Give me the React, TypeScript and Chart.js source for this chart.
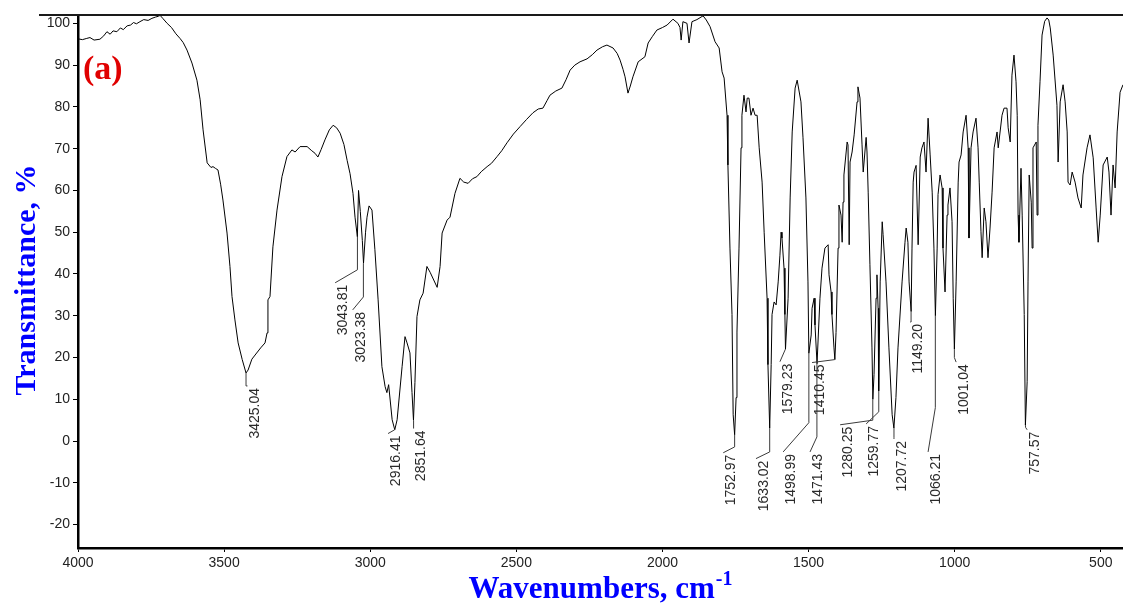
import React, { useEffect, useRef } from 'react';
import { Chart, registerables } from 'chart.js';

Chart.register(...registerables);

// ---- Spectrum data (wavenumber, cm-1 / transmittance, %) ----
const wavenumbers: number[] = [
  4000, 3985, 3970, 3959, 3945, 3925, 3912, 3901, 3890, 3880, 3867, 3855, 3845, 3832, 3820, 3810, 3800, 3788, 3775, 3760,
  3747, 3735, 3725, 3719, 3710, 3695, 3680, 3665, 3651, 3640, 3627, 3610, 3593, 3582, 3572, 3558, 3545, 3538, 3530, 3521,
  3512, 3504, 3490, 3480, 3473, 3463, 3452, 3438, 3425, 3418, 3405, 3394, 3375, 3360, 3353, 3350, 3343, 3333, 3319, 3302,
  3285, 3268, 3257, 3240, 3216, 3200, 3189, 3179, 3168, 3155, 3140, 3127, 3115, 3103, 3090, 3079, 3069, 3059, 3052, 3044,
  3040, 3034, 3027, 3023, 3016, 3011, 3004, 2994, 2984, 2973, 2960, 2949, 2943, 2937, 2925, 2916, 2908, 2891, 2881, 2874,
  2864, 2857, 2852, 2847, 2840, 2830, 2819, 2806, 2795, 2771, 2761, 2754, 2737, 2727, 2710, 2693, 2680, 2665, 2650, 2635,
  2620, 2600, 2585, 2566, 2550, 2532, 2510, 2487, 2465, 2443, 2425, 2409, 2395, 2385, 2365, 2344, 2330, 2316, 2300, 2282,
  2258, 2240, 2224, 2205, 2190, 2169, 2155, 2145, 2135, 2128, 2118, 2110, 2101, 2083, 2060, 2049, 2035, 2019, 2000, 1984,
  1964, 1947, 1940, 1936, 1930, 1916, 1909, 1899, 1882, 1861, 1850, 1837, 1820, 1806, 1796, 1789, 1779, 1776, 1769, 1762,
  1758, 1753, 1748, 1745, 1738, 1731, 1728, 1721, 1714, 1710, 1704, 1697, 1690, 1683, 1676, 1669, 1659, 1652, 1642, 1639,
  1633, 1628, 1625, 1618, 1611, 1604, 1598, 1594, 1591, 1584, 1581, 1579, 1570, 1563, 1556, 1546, 1539, 1526, 1519, 1509,
  1502, 1499, 1491, 1488, 1481, 1478, 1471, 1461, 1454, 1444, 1433, 1430, 1423, 1420, 1413, 1410, 1406, 1399, 1396, 1389,
  1385, 1382, 1379, 1368, 1365, 1361, 1358, 1351, 1344, 1334, 1331, 1324, 1317, 1313, 1303, 1300, 1296, 1290, 1283, 1280,
  1276, 1269, 1266, 1262, 1260, 1255, 1248, 1245, 1235, 1225, 1214, 1208, 1201, 1194, 1180, 1170, 1166, 1160, 1156, 1149,
  1146, 1142, 1139, 1132, 1125, 1118, 1112, 1105, 1098, 1091, 1084, 1077, 1071, 1066, 1060, 1057, 1050, 1043, 1040, 1033,
  1026, 1023, 1016, 1009, 1005, 1001, 995, 988, 985, 978, 971, 961, 954, 951, 944, 937, 927, 920, 916, 910,
  906, 899, 893, 886, 879, 872, 865, 855, 851, 838, 831, 821, 817, 810, 804, 797, 790, 786, 783, 780,
  773, 769, 762, 758, 752, 749, 745, 738, 735, 732, 721, 718, 715, 708, 701, 692, 684, 678, 673, 663,
  650, 646, 639, 629, 622, 615, 612, 605, 598, 588, 578, 567, 561, 547, 537, 526, 516, 509, 502, 492,
  478, 472, 465, 458, 451, 444, 434, 424,
];

const transmittance: number[] = [
  96.3, 96.1, 96.4, 96.6, 96.0, 96.2, 97.0, 98.0, 97.4, 98.2, 98.0, 98.9, 98.5, 99.4, 99.6, 100.2, 99.9, 100.4, 100.9, 100.7,
  101.2, 101.5, 101.7, 101.9, 101.2, 100.0, 99.0, 97.5, 96.4, 95.4, 93.6, 90.5, 86.4, 81.7, 74.5, 66.6, 65.5, 65.7, 65.3, 64.9,
  61.5, 57.7, 49.8, 41.8, 34.6, 29.0, 23.5, 19.5, 16.3, 17.0, 19.6, 20.6, 22.3, 23.5, 25.9, 33.8, 34.6, 46.5, 55.3, 63.3,
  68.1, 69.7, 69.2, 70.5, 70.5, 69.5, 68.9, 68.0, 69.8, 72.1, 74.5, 75.6, 75.0, 73.7, 71.0, 67.2, 64.0, 59.3, 53.6, 48.9,
  60.0, 55.0, 48.0, 42.6, 50.0, 53.6, 56.3, 55.3, 45.8, 33.8, 17.8, 13.0, 11.6, 13.5, 5.1, 2.7, 5.1, 17.8, 25.0, 23.5,
  21.1, 11.6, 5.0, 14.0, 29.8, 33.8, 35.4, 41.8, 40.4, 36.8, 41.8, 49.8, 52.9, 53.6, 59.3, 62.9, 62.0, 61.7, 62.8, 63.3,
  64.5, 65.7, 66.5, 68.1, 69.5, 71.4, 73.5, 75.3, 77.0, 78.6, 79.5, 79.7, 81.5, 82.8, 83.8, 84.5, 86.5, 88.8, 90.0, 90.8,
  91.5, 92.5, 93.6, 94.4, 94.8, 94.1, 92.8, 91.2, 89.0, 87.2, 83.3, 85.0, 87.2, 90.8, 92.0, 95.3, 96.8, 98.4, 99.0, 99.6,
  101.0, 100.0, 99.0, 96.0, 100.4, 100.0, 95.3, 100.4, 100.9, 101.8, 100.8, 99.2, 95.6, 94.1, 88.4, 86.9, 78.0, 66.1, 46.2, 30.3,
  6.3, 1.5, 10.4, 26.1, 46.2, 70.2, 78.0, 82.8, 78.8, 82.1, 82.1, 78.0, 79.7, 78.0, 78.0, 70.2, 62.0, 50.0, 34.2, 18.3,
  3.1, 18.3, 30.3, 33.3, 32.6, 38.1, 44.5, 50.0, 48.6, 41.4, 30.3, 22.0, 34.2, 58.2, 74.0, 84.5, 86.4, 81.2, 72.6, 58.2,
  38.1, 21.0, 25.4, 31.8, 34.2, 27.8, 18.5, 34.2, 41.4, 46.2, 47.0, 39.8, 35.7, 30.3, 22.3, 19.5, 26.0, 46.2, 56.5, 54.1,
  47.6, 57.2, 63.7, 71.6, 70.9, 47.0, 66.8, 69.2, 73.3, 81.2, 84.8, 82.1, 70.9, 64.4, 72.7, 69.2, 59.6, 42.2, 22.3, 10.0,
  15.9, 34.2, 39.8, 31.8, 12.0, 38.1, 52.5, 49.4, 38.1, 22.3, 6.3, 3.1, 10.4, 22.3, 38.1, 47.6, 51.0, 47.6, 38.1, 31.0,
  46.2, 62.0, 64.4, 66.0, 47.0, 68.0, 70.2, 71.6, 64.4, 77.3, 68.5, 59.6, 46.2, 30.0, 46.2, 59.0, 63.7, 60.6, 46.2, 35.7,
  54.1, 56.5, 60.6, 52.5, 34.2, 22.0, 38.1, 62.0, 66.8, 68.5, 74.0, 78.0, 70.2, 48.6, 70.2, 74.0, 77.3, 70.2, 62.0, 50.1,
  43.9, 55.8, 52.5, 43.9, 51.0, 59.6, 70.2, 74.0, 70.2, 78.0, 79.7, 79.7, 75.0, 71.6, 87.6, 92.4, 86.0, 78.0, 54.1, 47.6,
  65.3, 54.1, 30.3, 3.8, 14.2, 38.1, 63.7, 57.2, 46.2, 70.2, 71.6, 54.1, 75.6, 86.0, 97.2, 100.5, 101.3, 100.8, 98.9, 92.4,
  80.4, 66.8, 81.2, 85.3, 81.2, 74.0, 62.0, 61.3, 64.4, 62.0, 58.2, 55.8, 63.7, 70.2, 73.3, 67.8, 55.8, 47.6, 54.1, 66.1,
  68.0, 64.4, 54.1, 66.1, 60.6, 74.0, 83.5, 85.3,
];

// ---- Axes ----
const xTickValues: number[] = [4000, 3500, 3000, 2500, 2000, 1500, 1000, 500];
const yTickValues: number[] = [-20, -10, 0, 10, 20, 30, 40, 50, 60, 70, 80, 90, 100];
const xMin = 424;
const xMax = 4000;
const yMin = -25.6;
const yMax = 102;

// ---- Peak annotations ----
const peakLabels: string[] = [
  '3425.04', '3043.81', '3023.38', '2916.41', '2851.64', '1752.97', '1633.02', '1579.23', '1498.99',
  '1471.43', '1410.45', '1280.25', '1259.77', '1207.72', '1149.20', '1066.21', '1001.04', '757.57',
];
const peakWavenumbers: number[] = [
  3425.04, 3043.81, 3023.38, 2916.41, 2851.64, 1752.97, 1633.02, 1579.23, 1498.99,
  1471.43, 1410.45, 1280.25, 1259.77, 1207.72, 1149.2, 1066.21, 1001.04, 757.57,
];
const peakValues: number[] = [16.3, 48.9, 42.6, 2.7, 5.0, 1.5, 3.1, 22.0, 21.0, 18.5, 19.5, 10.0, 12.0, 3.1, 31.0, 30.0, 22.0, 3.8];
const leaderElbowValues: number[] = [13.2, 41.0, 34.5, 2.7, 3.0, -1.4, -2.6, 22.0, 4.4, 1.0, 19.5, 5.0, 7.0, 0.8, 28.5, 8.0, 20.0, 3.3];
const labelWavenumbers: number[] = [3420, 3120, 3060, 2939, 2851.64, 1792, 1680, 1598, 1587, 1495, 1488, 1392, 1303, 1207.72, 1152, 1091, 995, 752];
const labelValues: number[] = [13.2, 37.9, 31.4, 1.8, 3.0, -2.8, -4.2, 19.0, -2.6, -2.6, 18.8, 3.9, 4.1, 0.5, 28.5, -2.6, 18.9, 2.7];

const SANS = "'Liberation Sans', Arial, sans-serif";
const SERIF = "'Liberation Serif', 'Times New Roman', serif";

const overlayPlugin = {
  id: 'overlay',
  afterDatasetsDraw(chart: any) {
    const { ctx, chartArea } = chart;
    const xs = chart.scales.x;
    const ys = chart.scales.y;
    ctx.save();

    // top frame line
    ctx.strokeStyle = '#1a1a1a';
    ctx.lineWidth = 2;
    ctx.beginPath();
    ctx.moveTo(39, chartArea.top);
    ctx.lineTo(chart.width, chartArea.top);
    ctx.stroke();

    // peak leaders + labels
    ctx.strokeStyle = '#3a3a3a';
    ctx.fillStyle = '#2a2a2a';
    ctx.lineWidth = 1;
    ctx.font = `14px ${SANS}`;
    for (let i = 0; i < peakLabels.length; i++) {
      const px = xs.getPixelForValue(peakWavenumbers[i]);
      const py = ys.getPixelForValue(peakValues[i]);
      const ey = ys.getPixelForValue(leaderElbowValues[i]);
      const lx = xs.getPixelForValue(labelWavenumbers[i]);
      const ly = ys.getPixelForValue(labelValues[i]);
      ctx.beginPath();
      ctx.moveTo(px, py);
      ctx.lineTo(px, ey);
      ctx.lineTo(lx, ly);
      ctx.stroke();
      ctx.save();
      ctx.translate(lx + 8, ly + 2);
      ctx.rotate(-Math.PI / 2);
      ctx.textAlign = 'right';
      ctx.textBaseline = 'middle';
      ctx.fillText(peakLabels[i], 0, 0);
      ctx.restore();
    }

    // panel tag
    ctx.fillStyle = '#e00000';
    ctx.font = `bold 34px ${SERIF}`;
    ctx.textAlign = 'left';
    ctx.textBaseline = 'alphabetic';
    ctx.fillText('(a)', 83, 79);

    // y title
    ctx.save();
    ctx.fillStyle = '#0000ff';
    ctx.font = `bold 30px ${SERIF}`;
    ctx.translate(35, 280);
    ctx.rotate(-Math.PI / 2);
    ctx.textAlign = 'center';
    ctx.fillText('Transmittance, %', 0, 0);
    ctx.restore();

    // x title with superscript
    ctx.fillStyle = '#0000ff';
    ctx.font = `bold 31px ${SERIF}`;
    const main = 'Wavenumbers, cm';
    const w = ctx.measureText(main).width;
    ctx.font = `bold 20px ${SERIF}`;
    const sup = '-1';
    const ws = ctx.measureText(sup).width;
    const startX = 600 - (w + ws) / 2;
    ctx.font = `bold 31px ${SERIF}`;
    ctx.textAlign = 'left';
    ctx.fillText(main, startX, 598);
    ctx.font = `bold 20px ${SERIF}`;
    ctx.fillText(sup, startX + w + 1, 585);

    ctx.restore();
  },
};

export default function App() {
  const canvasRef = useRef<HTMLCanvasElement | null>(null);

  useEffect(() => {
    const canvas = canvasRef.current;
    if (!canvas) return;
    const points = wavenumbers.map((x, i) => ({ x, y: transmittance[i] }));
    const chart = new Chart(canvas, {
      type: 'line',
      data: {
        datasets: [
          {
            data: points,
            borderColor: '#000000',
            borderWidth: 1,
            pointRadius: 0,
            tension: 0,
            fill: false,
          },
        ],
      },
      options: {
        animation: false,
        responsive: false,
        maintainAspectRatio: false,
        devicePixelRatio: 1,
        layout: { padding: { top: 15, right: 0, left: 0, bottom: 0 } },
        plugins: {
          legend: { display: false },
          tooltip: { enabled: false },
          title: { display: false },
        },
        scales: {
          x: {
            type: 'linear',
            reverse: true,
            min: xMin,
            max: xMax,
            afterBuildTicks: (s: any) => {
              s.ticks = xTickValues.map((v) => ({ value: v }));
            },
            afterFit: (s: any) => {
              s.height = 57;
            },
            grid: { drawOnChartArea: false, drawTicks: true, tickLength: 4, color: '#000' },
            border: { color: '#000', width: 2.5 },
            ticks: {
              color: '#222',
              font: { family: SANS, size: 14 },
              padding: 3,
              maxRotation: 0,
              autoSkip: false,
              callback: (v: any) => String(v),
            },
          },
          y: {
            type: 'linear',
            min: yMin,
            max: yMax,
            afterBuildTicks: (s: any) => {
              s.ticks = yTickValues.map((v) => ({ value: v }));
            },
            afterFit: (s: any) => {
              s.width = 78;
            },
            grid: { drawOnChartArea: false, drawTicks: true, tickLength: 5, color: '#000' },
            border: { color: '#000', width: 2.5 },
            ticks: {
              color: '#222',
              font: { family: SANS, size: 14 },
              padding: 3,
              autoSkip: false,
              callback: (v: any) => String(v),
            },
          },
        },
      },
      plugins: [overlayPlugin],
    });
    return () => chart.destroy();
  }, []);

  return (
    <div style={{ position: 'fixed', left: 0, top: 0, width: 1123, height: 605, background: '#fff' }}>
      <canvas ref={canvasRef} width={1123} height={605} />
    </div>
  );
}
